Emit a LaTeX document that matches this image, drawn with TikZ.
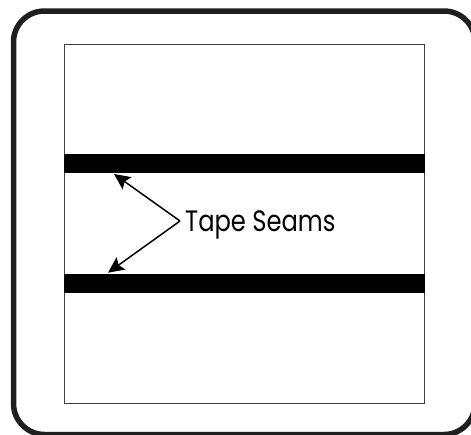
\documentclass[tikz,border=0pt]{standalone}
\usepackage{fontspec}
\setmainfont{Poppins}
\newfontfamily\labelfont[FakeStretch=0.82]{Poppins}
\usetikzlibrary{arrows.meta}
\tikzset{
  px/.style={x=1pt,y=-1pt},
  frameline/.style={draw=black!88,line width=5.5pt,rounded corners=31pt},
  panel/.style={draw=black!75,line width=1pt},
  seam/.style={fill=black,draw=none},
  pointer/.style={draw=black,line width=1.5pt,-{Stealth[length=16pt,width=15pt,inset=3pt]}},
  caption/.style={font=\labelfont\fontsize{29.5pt}{32pt}\selectfont,text=black,inner sep=0pt,anchor=base west}
}
\begin{document}
\begin{tikzpicture}[px]
\useasboundingbox (0,0) rectangle (471,434);
\fill[white] (0,0) rectangle (471,434);
\begin{scope}
\clip (0,0) rectangle (471,434);
\draw[frameline] (13.5,11) rectangle (475,434.5);
\end{scope}
\draw[panel] (64.5,44) rectangle (424.5,403.5);
\fill[seam] (64,154) rectangle (425,173);
\fill[seam] (64,274) rectangle (425,293);
\coordinate (apex) at (180,221);
\coordinate (top) at (114,174);
\coordinate (bot) at (108,272.7);
\node[caption] (label) at (185,231) {Tape Seams};
\draw[pointer] (apex) -- (top);
\draw[pointer] (apex) -- (bot);
\end{tikzpicture}
\end{document}
